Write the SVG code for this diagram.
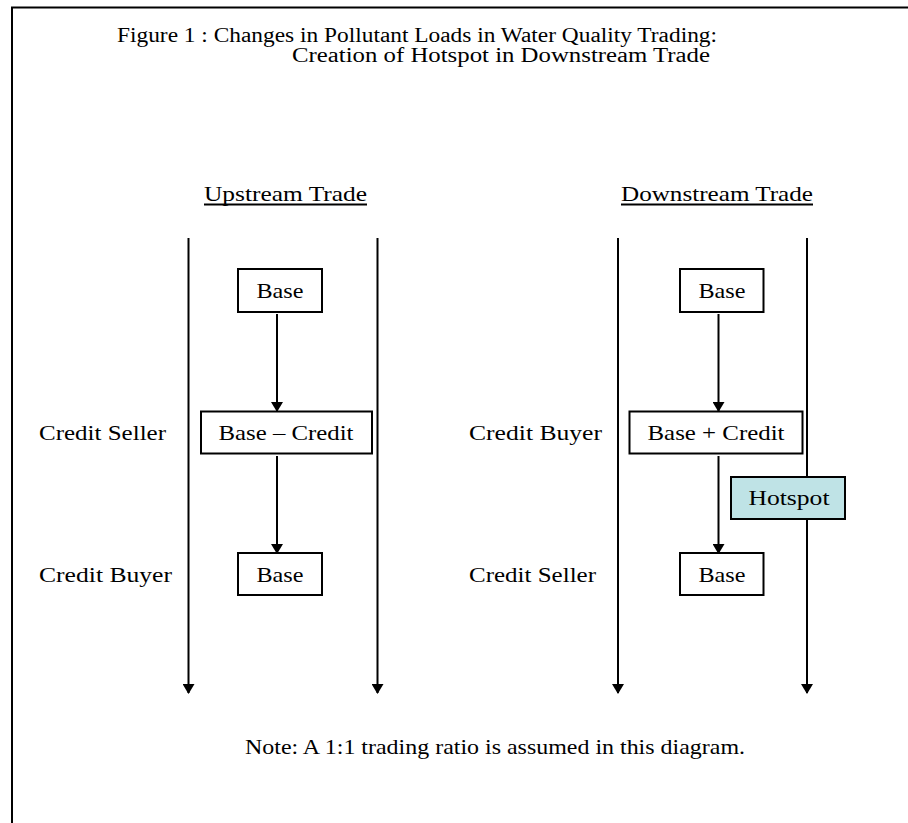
<svg xmlns="http://www.w3.org/2000/svg" width="908" height="823" viewBox="0 0 908 823">
<style>
  text { font-family: "Liberation Serif", "Times New Roman", serif; font-size: 21px; fill: #000; }
  .title { font-size: 20px; }
  .box { fill: #fff; stroke: #000; stroke-width: 2; }
  .hot { fill: #bfe3e6; stroke: #000; stroke-width: 2; }
  .line { stroke: #000; stroke-width: 2; fill: none; }
  .mid { text-anchor: middle; }
</style>
<defs>
  <marker id="arr" markerUnits="userSpaceOnUse" markerWidth="10" markerHeight="12" refX="9" refY="6" orient="auto" viewBox="0 0 10 12">
    <path d="M0,0 L10,6 L0,12 Z" fill="#000"/>
  </marker>
</defs>
<rect width="908" height="823" fill="#fff"/>
<path class="line" d="M12,823 V7.5 H908"/>

<g id="title">
  <text class="title" x="117" y="42" textLength="600" lengthAdjust="spacingAndGlyphs">Figure 1 : Changes in Pollutant Loads in Water Quality Trading:</text>
  <text class="title" x="292" y="62" textLength="418" lengthAdjust="spacingAndGlyphs">Creation of Hotspot in Downstream Trade</text>
</g>

<g id="heading-upstream">
  <text x="204" y="201" textLength="163" lengthAdjust="spacingAndGlyphs">Upstream Trade</text>
  <line class="line" x1="204" y1="204.5" x2="367" y2="204.5" stroke-width="1.5"/>
</g>
<g id="heading-downstream">
  <text x="621" y="201" textLength="192" lengthAdjust="spacingAndGlyphs">Downstream Trade</text>
  <line class="line" x1="621" y1="204.5" x2="813" y2="204.5" stroke-width="1.5"/>
</g>

<g id="connectors">
  <line class="line" x1="188.5" y1="238" x2="188.5" y2="693" marker-end="url(#arr)"/>
  <line class="line" x1="377.5" y1="238" x2="377.5" y2="693" marker-end="url(#arr)"/>
  <line class="line" x1="618" y1="238" x2="618" y2="693" marker-end="url(#arr)"/>
  <line class="line" x1="807" y1="238" x2="807" y2="693" marker-end="url(#arr)"/>
  <line class="line" x1="277" y1="314" x2="277" y2="411" marker-end="url(#arr)"/>
  <line class="line" x1="277" y1="456" x2="277" y2="553" marker-end="url(#arr)"/>
  <line class="line" x1="718.5" y1="314" x2="718.5" y2="411" marker-end="url(#arr)"/>
  <line class="line" x1="718.5" y1="456" x2="718.5" y2="553" marker-end="url(#arr)"/>
</g>

<g id="up-base-top">
  <rect class="box" x="238" y="269" width="84" height="43"/>
  <text x="280" y="297.5" class="mid" textLength="47" lengthAdjust="spacingAndGlyphs">Base</text>
</g>
<g id="up-base-credit">
  <rect class="box" x="201" y="411.5" width="171" height="42"/>
  <text x="286" y="440" class="mid" textLength="135" lengthAdjust="spacingAndGlyphs">Base – Credit</text>
</g>
<g id="up-base-bottom">
  <rect class="box" x="238" y="553" width="84" height="42"/>
  <text x="280" y="581.5" class="mid" textLength="47" lengthAdjust="spacingAndGlyphs">Base</text>
</g>

<g id="down-base-top">
  <rect class="box" x="680" y="269" width="83.5" height="43"/>
  <text x="722" y="297.5" class="mid" textLength="47" lengthAdjust="spacingAndGlyphs">Base</text>
</g>
<g id="down-base-credit">
  <rect class="box" x="629.5" y="411.5" width="173" height="42"/>
  <text x="716" y="440" class="mid" textLength="137" lengthAdjust="spacingAndGlyphs">Base + Credit</text>
</g>
<g id="down-base-bottom">
  <rect class="box" x="680" y="553" width="83.5" height="42"/>
  <text x="722" y="581.5" class="mid" textLength="47" lengthAdjust="spacingAndGlyphs">Base</text>
</g>
<g id="hotspot">
  <rect class="hot" x="731" y="477" width="114" height="42"/>
  <text x="789" y="505" class="mid" textLength="81" lengthAdjust="spacingAndGlyphs">Hotspot</text>
</g>

<g id="labels">
  <text x="39" y="440" textLength="127" lengthAdjust="spacingAndGlyphs">Credit Seller</text>
  <text x="39" y="581.5" textLength="133" lengthAdjust="spacingAndGlyphs">Credit Buyer</text>
  <text x="469" y="440" textLength="133" lengthAdjust="spacingAndGlyphs">Credit Buyer</text>
  <text x="469" y="581.5" textLength="127" lengthAdjust="spacingAndGlyphs">Credit Seller</text>
</g>

<g id="note">
  <text x="245" y="754" textLength="500" lengthAdjust="spacingAndGlyphs">Note: A 1:1 trading ratio is assumed in this diagram.</text>
</g>
</svg>
